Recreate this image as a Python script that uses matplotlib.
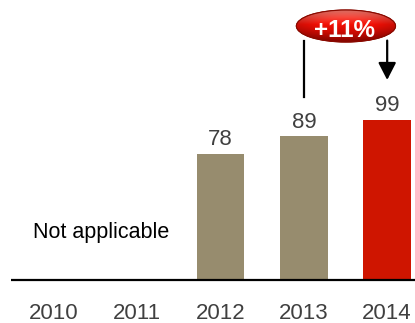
import numpy as np
import matplotlib
matplotlib.use("Agg")
import matplotlib.pyplot as plt
from matplotlib.patches import Ellipse

plt.rcParams['font.family'] = ['Liberation Sans', 'DejaVu Sans']

years = ["2010", "2011", "2012", "2013", "2014"]
values = [None, None, 78, 89, 99]
bar_colors = [None, None, "#978c6e", "#978c6e", "#cf1500"]
growth_label = "+11%"
na_label = "Not applicable"

fig = plt.figure(figsize=(4.15, 3.23), dpi=100)
ax = fig.add_axes([0, 0, 1, 1])
ax.set_xlim(-0.648, 4.334)
ax.set_ylim(-26.6, 173.3)
ax.axis("off")

x = np.arange(len(years))
for xi, v, c in zip(x, values, bar_colors):
    if v is None:
        continue
    ax.bar(xi, v, width=0.57, color=c, zorder=2)
    ax.text(xi, v + 5.3, f"{v}", ha="center", va="baseline", fontsize=16,
            color="#404040")

# baseline
ax.plot([-0.516, 4.334], [0, 0], color="black", lw=1.6, zorder=3,
        solid_capstyle="butt")

for xi, y in zip(x, years):
    ax.text(xi, -24.1, y, ha="center", va="baseline", fontsize=16,
            color="#404040")

ax.text(-0.252, 26.0, na_label, ha="left", va="baseline", fontsize=15.5,
        color="black")

# growth connector
y_top = 148.0
ax.plot([3, 3], [113.2, y_top], color="black", lw=1.6, zorder=3)
ax.annotate("", xy=(4, 123.8), xytext=(4, y_top + 0.2),
            arrowprops=dict(arrowstyle="-|>,head_length=1.05,head_width=0.54",
                            color="black", lw=1.6, shrinkA=0, shrinkB=0),
            zorder=3)

# glossy badge
cx, cy, w, h = 3.505, 157.2, 1.19, 19.8
base = Ellipse((cx, cy), w, h, facecolor="#c80d00", edgecolor="#8a0a00",
               lw=0.8, zorder=5)
ax.add_patch(base)
ny, nx = 120, 200
yy, xx = np.mgrid[0:1:ny * 1j, 0:1:nx * 1j]
top_c = np.array([1.0, 0.50, 0.45])
mid_c = np.array([0.95, 0.06, 0.02])
bot_c = np.array([0.60, 0.02, 0.0])
t = yy[..., None]
vert = np.where(t < 0.45, top_c + (mid_c - top_c) * (t / 0.45),
                mid_c + (bot_c - mid_c) * ((t - 0.45) / 0.55))
r = np.sqrt(((xx - 0.5) / 0.5) ** 2 + ((yy - 0.5) / 0.5) ** 2)[..., None]
shade = 1 - 0.35 * np.clip(r - 0.55, 0, 1)
img = np.clip(vert * shade, 0, 1)
im = ax.imshow(img, extent=(cx - w / 2, cx + w / 2, cy - h / 2, cy + h / 2),
               origin="upper", aspect="auto", zorder=5.5, interpolation="bilinear")
im.set_clip_path(base)
ax.add_patch(Ellipse((cx, cy), w, h, facecolor="none", edgecolor="#8a0a00",
                     lw=0.8, zorder=6))
ax.text((344.5 - 54) / 83.3, 150.6, growth_label, ha="center", va="baseline",
        fontsize=17.5, fontweight="bold", color="white", zorder=7)

fig.savefig("out.png", dpi=100)
